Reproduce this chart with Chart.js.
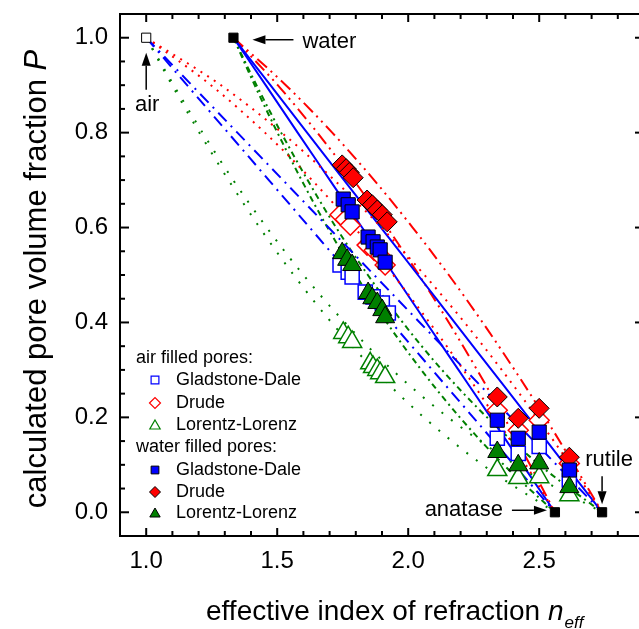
<!DOCTYPE html>
<html><head><meta charset="utf-8">
<script src="https://cdn.jsdelivr.net/npm/chart.js@4/dist/chart.umd.min.js"></script>
<style>html,body{margin:0;padding:0;overflow:hidden;background:#fff;width:639px;height:629px}</style>
</head><body>
<canvas id="c" width="660" height="629" style="display:block;width:660px;height:629px"></canvas>
<script>
const FONT = '"Liberation Sans", Arial, sans-serif';

// axis tick labels
const xTickLabels = [1.0, 1.5, 2.0, 2.5];
const yTickLabels = [0.0, 0.2, 0.4, 0.6, 0.8, 1.0];

// reference media (pure air, pure water, anatase, rutile)
const refNames = ['air', 'water', 'anatase', 'rutile'];
const refN = [1.0, 1.333, 2.56, 2.74];
const refP = [1.0, 1.0, 0.0, 0.0];

// model curves: pore fraction levels and effective index
const curveP = [1.0, 0.9, 0.8, 0.7, 0.6, 0.5, 0.4, 0.3, 0.2, 0.1, 0.0];
const gdAirAnatase   = [1.000, 1.156, 1.312, 1.468, 1.624, 1.780, 1.936, 2.092, 2.248, 2.404, 2.560];
const gdAirRutile    = [1.000, 1.174, 1.348, 1.522, 1.696, 1.870, 2.044, 2.218, 2.392, 2.566, 2.740];
const gdWatAnatase   = [1.333, 1.456, 1.578, 1.701, 1.824, 1.947, 2.069, 2.192, 2.315, 2.437, 2.560];
const gdWatRutile    = [1.333, 1.474, 1.614, 1.755, 1.896, 2.037, 2.177, 2.318, 2.459, 2.599, 2.740];
const drAirAnatase   = [1.000, 1.247, 1.453, 1.633, 1.795, 1.943, 2.081, 2.211, 2.333, 2.449, 2.560];
const drAirRutile    = [1.000, 1.285, 1.517, 1.718, 1.898, 2.062, 2.215, 2.357, 2.491, 2.619, 2.740];
const drWatAnatase   = [1.333, 1.502, 1.653, 1.792, 1.920, 2.041, 2.155, 2.263, 2.366, 2.465, 2.560];
const drWatRutile    = [1.333, 1.533, 1.710, 1.870, 2.017, 2.155, 2.284, 2.406, 2.522, 2.633, 2.740];
const llAirAnatase   = [1.000, 1.099, 1.203, 1.314, 1.433, 1.563, 1.707, 1.871, 2.060, 2.284, 2.560];
const llAirRutile    = [1.000, 1.105, 1.215, 1.332, 1.460, 1.600, 1.758, 1.939, 2.152, 2.411, 2.740];
const llWatAnatase   = [1.333, 1.414, 1.501, 1.593, 1.692, 1.800, 1.918, 2.050, 2.197, 2.365, 2.560];
const llWatRutile    = [1.333, 1.421, 1.515, 1.616, 1.725, 1.846, 1.979, 2.129, 2.301, 2.501, 2.740];

// measured samples: air filled pores
const airGD_n = [1.740, 1.771, 1.786, 1.836, 1.866, 1.901, 1.924, 2.34, 2.42, 2.50, 2.615];
const airGD_P = [0.521, 0.506, 0.496, 0.464, 0.454, 0.441, 0.420, 0.156, 0.124, 0.139, 0.068];
const airDR_n = [1.740, 1.760, 1.779, 1.843, 1.870, 1.895, 1.912, 2.34, 2.42, 2.50, 2.615];
const airDR_P = [0.627, 0.617, 0.605, 0.563, 0.552, 0.540, 0.521, 0.215, 0.173, 0.194, 0.103];
const airLL_n = [1.752, 1.771, 1.786, 1.855, 1.866, 1.882, 1.893, 1.912, 2.34, 2.42, 2.50, 2.615];
const airLL_P = [0.378, 0.369, 0.359, 0.314, 0.306, 0.300, 0.293, 0.285, 0.089, 0.072, 0.074, 0.036];
// measured samples: water filled pores
const watGD_n = [1.752, 1.771, 1.786, 1.847, 1.866, 1.882, 1.893, 1.912, 2.34, 2.42, 2.50, 2.615];
const watGD_P = [0.660, 0.648, 0.633, 0.580, 0.570, 0.559, 0.553, 0.527, 0.194, 0.156, 0.169, 0.089];
const watDR_n = [1.748, 1.763, 1.775, 1.790, 1.843, 1.863, 1.882, 1.901, 1.920, 2.34, 2.42, 2.50, 2.615];
const watDR_P = [0.732, 0.724, 0.716, 0.705, 0.658, 0.648, 0.637, 0.627, 0.612, 0.243, 0.198, 0.219, 0.116];
const watLL_n = [1.748, 1.767, 1.786, 1.847, 1.863, 1.882, 1.901, 1.912, 2.34, 2.42, 2.50, 2.615];
const watLL_P = [0.546, 0.532, 0.521, 0.462, 0.451, 0.441, 0.426, 0.411, 0.127, 0.099, 0.103, 0.053];

const BLUE = '#0000ff', RED = '#ff0000', GREEN = '#008000';
const pts = (ns, ps) => ns.map((n, i) => ({x: n, y: ps[i]}));
const curve = (ns, color, dash) => ({
  data: pts(ns, curveP), showLine: true, pointRadius: 0, borderColor: color,
  borderWidth: 2, borderDash: dash, cubicInterpolationMode: 'monotone', fill: false, order: 10
});
const DASH_DOT = [12, 6, 2, 6], DOT_RED = [2, 6], DOT_GREEN = [2, 10],
      DASH_DOT_DOT = [13, 5, 2, 5, 2, 5], SHORT_DASH_DOT = [6, 4, 2, 4];

const openSet = (ns, ps, color, style, r) => ({
  data: pts(ns, ps), pointStyle: style, pointRadius: r, backgroundColor: '#fff',
  borderColor: color, borderWidth: 1.5, showLine: false, order: 5
});
const fillSet = (ns, ps, color, style, r) => ({
  data: pts(ns, ps), pointStyle: style, pointRadius: r, backgroundColor: color,
  borderColor: '#000', borderWidth: 1, showLine: false, order: 1
});

const datasets = [
  curve(gdAirAnatase, BLUE, DASH_DOT), curve(gdAirRutile, BLUE, DASH_DOT),
  curve(drAirAnatase, RED, DOT_RED), curve(drAirRutile, RED, DOT_RED),
  curve(llAirAnatase, GREEN, DOT_GREEN), curve(llAirRutile, GREEN, DOT_GREEN),
  curve(gdWatAnatase, BLUE, []), curve(gdWatRutile, BLUE, []),
  curve(drWatAnatase, RED, DASH_DOT_DOT), curve(drWatRutile, RED, DASH_DOT_DOT),
  curve(llWatAnatase, GREEN, SHORT_DASH_DOT), curve(llWatRutile, GREEN, SHORT_DASH_DOT),
  openSet(airLL_n, airLL_P, GREEN, 'triangle', 11),
  openSet(airGD_n, airGD_P, BLUE, 'rect', 10),
  openSet(airDR_n, airDR_P, RED, 'rectRot', 10),
  fillSet(watLL_n, watLL_P, GREEN, 'triangle', 11),
  fillSet(watGD_n, watGD_P, BLUE, 'rect', 10),
  fillSet(watDR_n, watDR_P, RED, 'rectRot', 10),
  { data: pts(refN, refP), pointStyle: 'rect', pointRadius: 6.5, borderColor: '#000', borderWidth: 1,
    backgroundColor: refNames.map(n => n === 'air' ? '#fff' : '#000'), showLine: false, order: 0 }
];

function arrow(ctx, x1, y1, x2, y2) {
  const ang = Math.atan2(y2 - y1, x2 - x1), L = 13, W = 4.5;
  const bx = x2 - L * Math.cos(ang), by = y2 - L * Math.sin(ang);
  ctx.beginPath(); ctx.moveTo(x1, y1); ctx.lineTo(bx, by); ctx.lineWidth = 1.5; ctx.stroke();
  ctx.beginPath(); ctx.moveTo(x2, y2);
  ctx.lineTo(bx + W * Math.sin(ang), by - W * Math.cos(ang));
  ctx.lineTo(bx - W * Math.sin(ang), by + W * Math.cos(ang));
  ctx.closePath(); ctx.fill();
}

const deco = {
  id: 'deco',
  afterDraw(chart) {
    const {ctx, chartArea: a, scales: {x, y}} = chart;
    ctx.save();
    ctx.strokeStyle = '#000'; ctx.fillStyle = '#000';
    // frame
    ctx.lineWidth = 2;
    ctx.strokeRect(a.left, a.top, a.right - a.left, a.bottom - a.top);
    // inward ticks
    const seg = (x1, y1, x2, y2) => { ctx.beginPath(); ctx.moveTo(x1, y1); ctx.lineTo(x2, y2); ctx.stroke(); };
    for (let k = 9; k <= 29; k++) {
      const px = x.getPixelForValue(k / 10);
      if (px <= a.left + 1 || px >= a.right - 1) continue;
      const len = k % 5 === 0 ? 8 : 5;
      seg(px, a.bottom, px, a.bottom - len); seg(px, a.top, px, a.top + len);
    }
    for (let k = -1; k <= 21; k++) {
      const py = y.getPixelForValue(k * 0.05);
      if (py <= a.top + 1 || py >= a.bottom - 1) continue;
      const len = ((k % 4) + 4) % 4 === 0 ? 9 : 5;
      seg(a.left, py, a.left + len, py); seg(a.right, py, a.right - len, py);
    }
    // axis titles
    ctx.textBaseline = 'alphabetic'; ctx.textAlign = 'left';
    ctx.font = `28px ${FONT}`;
    const t1 = 'effective index of refraction ';
    const xs = 206, yb = 620;
    ctx.fillText(t1, xs, yb);
    let w = ctx.measureText(t1).width;
    ctx.font = `italic 28px ${FONT}`;
    ctx.fillText('n', xs + w, yb);
    w += ctx.measureText('n').width;
    ctx.font = `italic 17px ${FONT}`;
    ctx.fillText('eff', xs + w + 1, yb + 8);

    ctx.save();
    ctx.translate(46, 279); ctx.rotate(-Math.PI / 2);
    ctx.font = `31px ${FONT}`;
    const t2 = 'calculated pore volume fraction ';
    const w2 = ctx.measureText(t2).width;
    ctx.font = `italic 31px ${FONT}`;
    const wP = ctx.measureText('P').width;
    const start = -(w2 + wP) / 2;
    ctx.font = `31px ${FONT}`;
    ctx.fillText(t2, start, 0);
    ctx.font = `italic 31px ${FONT}`;
    ctx.fillText('P', start + w2, 0);
    ctx.restore();

    // legend
    ctx.font = `18px ${FONT}`; ctx.textBaseline = 'middle'; ctx.textAlign = 'left';
    ctx.fillStyle = '#000';
    ctx.fillText('air filled pores:', 136, 358);
    ctx.fillText('water filled pores:', 136, 447);
    const rows = [
      ['Gladstone-Dale', 380, 'rect', BLUE, false], ['Drude', 403, 'rectRot', RED, false],
      ['Lorentz-Lorenz', 425, 'triangle', GREEN, false],
      ['Gladstone-Dale', 470, 'rect', BLUE, true], ['Drude', 492, 'rectRot', RED, true],
      ['Lorentz-Lorenz', 513, 'triangle', GREEN, true]
    ];
    for (const [label, ry, style, color, filled] of rows) {
      ctx.save();
      ctx.fillStyle = filled ? color : '#fff';
      ctx.strokeStyle = filled ? '#000' : color;
      ctx.lineWidth = filled ? 1 : 1.2;
      Chart.helpers.drawPoint(ctx, {pointStyle: style, radius: style === 'triangle' ? 6 : 5.5, rotation: 0, borderWidth: 1}, 155, ry + (style === 'triangle' ? 1 : 0));
      ctx.restore();
      ctx.fillStyle = '#000';
      ctx.fillText(label, 176, ry);
    }

    // annotations
    ctx.font = `22px ${FONT}`; ctx.textBaseline = 'middle';
    const pxAir = x.getPixelForValue(refN[0]), pyTop = y.getPixelForValue(refP[0]);
    const pxWat = x.getPixelForValue(refN[1]);
    const pxAna = x.getPixelForValue(refN[2]), pyBot = y.getPixelForValue(refP[2]);
    const pxRut = x.getPixelForValue(refN[3]);
    ctx.textAlign = 'center';
    ctx.fillText(refNames[0], pxAir + 1, pyTop + 67);
    arrow(ctx, pxAir, pyTop + 52, pxAir, pyTop + 15);
    ctx.textAlign = 'left';
    arrow(ctx, pxWat + 60, pyTop + 2, pxWat + 19, pyTop + 2);
    ctx.fillText(refNames[1], pxWat + 69, pyTop + 4);
    ctx.textAlign = 'right';
    ctx.fillText(refNames[2], pxAna - 52, pyBot - 2);
    arrow(ctx, pxAna - 43, pyBot - 2, pxAna - 8, pyBot - 2);
    ctx.textAlign = 'center';
    ctx.fillText(refNames[3], pxRut + 7, pyBot - 52);
    arrow(ctx, pxRut, pyBot - 36, pxRut, pyBot - 8);
    ctx.restore();
  }
};

new Chart(document.getElementById('c'), {
  type: 'scatter',
  data: { datasets },
  options: {
    responsive: false, maintainAspectRatio: false, animation: false, devicePixelRatio: 1,
    events: [],
    layout: { padding: { left: 0, right: 16, top: 14, bottom: 0 } },
    plugins: { legend: { display: false }, tooltip: { enabled: false } },
    scales: {
      x: {
        type: 'linear', min: 0.9, max: 2.9,
        grid: { display: false, drawTicks: false }, border: { display: false },
        afterBuildTicks: s => { s.ticks = xTickLabels.map(v => ({value: v})); },
        afterFit: s => { s.height = 93; s.paddingLeft = 0; s.paddingRight = 0; },
        ticks: { color: '#000', font: { family: FONT, size: 24 }, padding: 11, maxRotation: 0,
                 callback: v => Number(v).toFixed(1) }
      },
      y: {
        type: 'linear', min: -0.05, max: 1.05,
        grid: { display: false, drawTicks: false }, border: { display: false },
        afterBuildTicks: s => { s.ticks = yTickLabels.map(v => ({value: v})); },
        afterFit: s => { s.width = 120; s.paddingTop = 0; s.paddingBottom = 0; },
        ticks: { color: '#000', font: { family: FONT, size: 24 }, padding: 12,
                 callback: v => Number(v).toFixed(1) }
      }
    }
  },
  plugins: [deco]
});
</script>
</body></html>
